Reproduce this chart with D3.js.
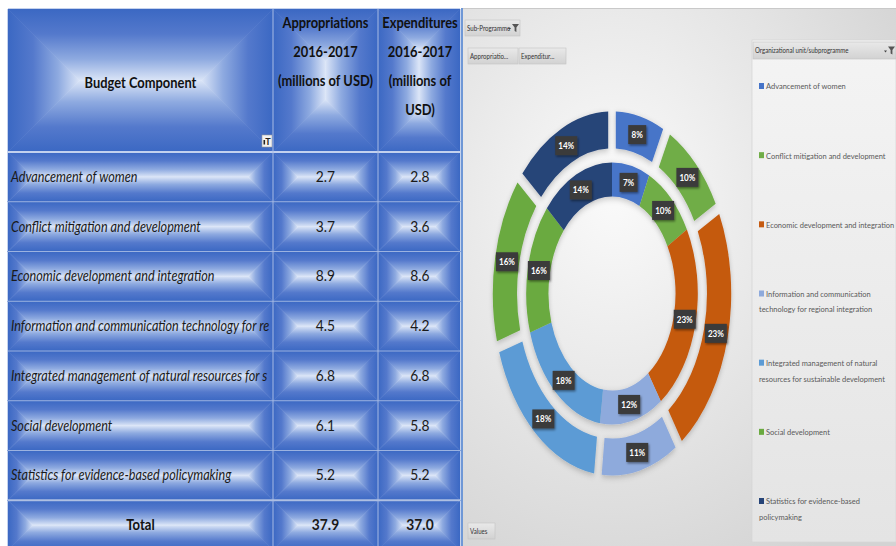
<!DOCTYPE html>
<html lang="en">
<head>
<meta charset="UTF-8">
<title>Budget components</title>
<script src="https://cdn.jsdelivr.net/npm/d3@7/dist/d3.min.js"></script>
<style>
    body { margin: 0; background: #fff; }
    svg { display: block; }
    .narrow { font-family: Lato, "Open Sans", sans-serif; }
    .head { font-weight: bold; font-size: 15px; fill: #111; text-anchor: middle; }
    .lbl { font-style: italic; font-size: 14.5px; fill: #1a1a1a; }
    .num { font-size: 15px; fill: #1a1a1a; text-anchor: middle; }
    .tot { font-weight: bold; }
    .btn text { font-size: 8.5px; fill: #333; }
    .leg text { font-size: 8.5px; fill: #595959; }
    .pct { font-size: 9.5px; font-weight: bold; fill: #fff; text-anchor: middle; }
</style>
</head>
<body>
<script>
    // data
    var components = [
        "Advancement of women",
        "Conflict mitigation and development",
        "Economic development and integration",
        "Information and communication technology for regional integration",
        "Integrated management of natural resources for sustainable development",
        "Social development",
        "Statistics for evidence-based policymaking"
    ];
    var appropriations = [2.7, 3.7, 8.9, 4.5, 6.8, 6.1, 5.2];
    var expenditures = [2.8, 3.6, 8.6, 4.2, 6.8, 5.8, 5.2];
    var colHeaders = [
        ["Budget Component"],
        ["Appropriations", "2016-2017", "(millions of USD)"],
        ["Expenditures", "2016-2017", "(millions of", "USD)"]
    ];
    var legendLines = [
        ["Advancement of women"],
        ["Conflict mitigation and development"],
        ["Economic development and integration"],
        ["Information and communication", "technology for regional integration"],
        ["Integrated management of natural", "resources for sustainable development"],
        ["Social development"],
        ["Statistics for evidence-based", "policymaking"]
    ];
    var colors = ["#4674c8", "#70ad47", "#c55a11", "#8eaadc", "#5b9bd5", "#6aaa40", "#264478"];

    var width = 896, height = 546;
    var svg = d3.select("body").append("svg")
        .attr("width", width)
        .attr("height", height);
    var defs = svg.append("defs");

    // squeeze text horizontally around its x (the original uses a narrow font)
    function condense(sel, k) {
        sel.each(function () {
            var x = +this.getAttribute("x") || 0;
            d3.select(this).attr("transform", "matrix(" + k + ",0,0,1," + (x * (1 - k)) + ",0)");
        });
    }
    // drop trailing characters that would not show inside maxW
    function fitTo(sel, maxW, k) {
        sel.each(function () {
            var t = d3.select(this), s = t.text();
            while (s.length > 1 && this.getComputedTextLength() * k > maxW) {
                s = s.slice(0, -1);
                t.text(s);
            }
        });
    }

    // bevel gradients (edge -> centre)
    var bevelStops = [[0, "#3b68c3"], [0.35, "#5479cc"], [0.7, "#8eaae0"], [1, "#dbe5f7"]];
    var dirs = {top: [0, 0, 0, 1], bottom: [0, 1, 0, 0], left: [0, 0, 1, 0], right: [1, 0, 0, 0]};
    Object.keys(dirs).forEach(function (k) {
        var g = defs.append("linearGradient").attr("id", "bv-" + k)
            .attr("x1", dirs[k][0]).attr("y1", dirs[k][1])
            .attr("x2", dirs[k][2]).attr("y2", dirs[k][3]);
        bevelStops.forEach(function (s) {
            g.append("stop").attr("offset", s[0]).attr("stop-color", s[1]);
        });
    });

    function bevel(sel, x, y, w, h) {
        var m = Math.min(w, h) / 2;
        var TL = [x, y], TR = [x + w, y], BR = [x + w, y + h], BL = [x, y + h];
        var P1 = [x + m, y + m], P2 = [x + w - m, y + m], P3 = [x + w - m, y + h - m], P4 = [x + m, y + h - m];
        var polys = {top: [TL, TR, P2, P1], right: [TR, BR, P3, P2], bottom: [BR, BL, P4, P3], left: [BL, TL, P1, P4]};
        Object.keys(polys).forEach(function (k) {
            sel.append("polygon")
                .attr("points", polys[k].map(function (p) { return p.join(","); }).join(" "))
                .attr("fill", "url(#bv-" + k + ")")
                .attr("stroke", "url(#bv-" + k + ")")
                .attr("stroke-width", 0.6);
        });
    }

    // ---------- table ----------
    var colEdges = [8, 273, 378, 460];
    var headTop = 9, headBottom = 152;
    var rowKeys = components.concat(["Total"]);
    var yRow = d3.scaleBand().domain(rowKeys).range([headBottom, 550]);

    var table = svg.append("g").attr("class", "narrow");
    // header cells
    colHeaders.forEach(function (lines, c) {
        var cell = table.append("g");
        bevel(cell, colEdges[c], headTop, colEdges[c + 1] - colEdges[c], headBottom - headTop);
        var cx = (colEdges[c] + colEdges[c + 1]) / 2 + (c === 2 ? 1 : 0);
        var y0 = c === 0 ? 88 : 28;
        lines.forEach(function (t, i) {
            cell.append("text").attr("class", "head")
                .attr("x", cx).attr("y", y0 + i * 29).text(t)
                .call(condense, 0.86);
        });
    });
    // filter button on header
    table.append("rect").attr("x", 262).attr("y", 135).attr("width", 10).attr("height", 12)
        .attr("fill", "#f2f2f2").attr("stroke", "#9a9a9a").attr("stroke-width", 0.6);
    table.append("text").attr("x", 268).attr("y", 144.5).attr("text-anchor", "middle")
        .attr("font-size", 9).attr("font-weight", "bold").attr("fill", "#222").text("T");
    table.append("rect").attr("x", 263.5).attr("y", 140).attr("width", 1.6).attr("height", 4.5).attr("fill", "#222");

    // body cells
    rowKeys.forEach(function (key) {
        var y = yRow(key), h = yRow.bandwidth();
        for (var c = 0; c < 3; c++) {
            bevel(table, colEdges[c], y, colEdges[c + 1] - colEdges[c], h);
        }
    });
    var rows = table.selectAll(".row")
        .data(rowKeys)
        .enter().append("g").attr("class", "row");
    rows.append("text")
        .attr("class", function (d) { return d === "Total" ? "head" : "lbl"; })
        .attr("x", function (d) { return d === "Total" ? (colEdges[0] + colEdges[1]) / 2 : 11; })
        .attr("y", function (d) { return yRow(d) + yRow.bandwidth() / 2 + 5; })
        .text(function (d) { return d; })
        .call(fitTo, colEdges[1] - 12, 0.87)
        .call(condense, 0.87);
    var totals = [d3.sum(appropriations), d3.sum(expenditures)];
    [appropriations, expenditures].forEach(function (series, s) {
        rows.append("text")
            .attr("class", function (d) { return d === "Total" ? "num tot" : "num"; })
            .attr("x", (colEdges[s + 1] + colEdges[s + 2]) / 2 + (s === 1 ? 1 : 0))
            .attr("y", function (d) { return yRow(d) + yRow.bandwidth() / 2 + 5; })
            .text(function (d, i) { return d === "Total" ? totals[s].toFixed(1) : series[i].toFixed(1); })
            .call(condense, 0.92);
    });
    // grid lines
    rowKeys.slice(1).forEach(function (key) {
        table.append("line").attr("x1", colEdges[0]).attr("x2", colEdges[3])
            .attr("y1", yRow(key)).attr("y2", yRow(key))
            .attr("stroke", key === "Total" ? "#aebfe2" : "#9bb2e0")
            .attr("stroke-width", key === "Total" ? 2 : 1);
    });
    table.append("line").attr("x1", colEdges[0]).attr("x2", colEdges[3])
        .attr("y1", headBottom).attr("y2", headBottom).attr("stroke", "#c3d1ee").attr("stroke-width", 2);
    [colEdges[1], colEdges[2]].forEach(function (x) {
        table.append("line").attr("x1", x).attr("x2", x).attr("y1", headTop).attr("y2", height)
            .attr("stroke", "#a9bce4").attr("stroke-width", 1);
    });

    // ---------- pivot chart ----------
    var bg = defs.append("radialGradient").attr("id", "chartbg")
        .attr("cx", "35%").attr("cy", "35%").attr("r", "80%");
    bg.append("stop").attr("offset", 0).attr("stop-color", "#fafafa");
    bg.append("stop").attr("offset", 1).attr("stop-color", "#d3d3d3");
    var lg = defs.append("linearGradient").attr("id", "legbg").attr("x1", 0).attr("y1", 0).attr("x2", 0).attr("y2", 1);
    lg.append("stop").attr("offset", 0).attr("stop-color", "#f4f4f4");
    lg.append("stop").attr("offset", 1).attr("stop-color", "#e4e4e4");
    var bt = defs.append("linearGradient").attr("id", "btnbg").attr("x1", 0).attr("y1", 0).attr("x2", 0).attr("y2", 1);
    bt.append("stop").attr("offset", 0).attr("stop-color", "#e9e9e9");
    bt.append("stop").attr("offset", 1).attr("stop-color", "#d2d2d2");
    var sh = defs.append("filter").attr("id", "shadow").attr("x", "-30%").attr("y", "-30%").attr("width", "160%").attr("height", "160%");
    sh.append("feDropShadow").attr("dx", 1).attr("dy", 1.5).attr("stdDeviation", 1.2).attr("flood-opacity", 0.45);
    var soft = defs.append("filter").attr("id", "soft").attr("x", "-20%").attr("y", "-20%").attr("width", "140%").attr("height", "140%");
    soft.append("feDropShadow").attr("dx", 0).attr("dy", 2).attr("stdDeviation", 3).attr("flood-opacity", 0.22);

    var chart = svg.append("g").attr("class", "narrow");
    chart.append("rect").attr("x", 462).attr("y", 8).attr("width", width - 462).attr("height", height - 8)
        .attr("fill", "url(#chartbg)");
    chart.append("rect").attr("x", 752).attr("y", 40).attr("width", width - 752).attr("height", 502)
        .attr("fill", "url(#legbg)").attr("stroke", "#d6d6d6").attr("stroke-width", 0.8);
    chart.append("line").attr("x1", 462).attr("x2", width).attr("y1", 8.5).attr("y2", 8.5)
        .attr("stroke", "#c9c9c9");
    chart.append("line").attr("x1", 462).attr("x2", 462).attr("y1", 8).attr("y2", height)
        .attr("stroke", "#6f98d6").attr("stroke-width", 2);

    function button(x, y, w, h, label, icon) {
        var b = chart.append("g").attr("class", "btn");
        b.append("rect").attr("x", x).attr("y", y).attr("width", w).attr("height", h)
            .attr("fill", "url(#btnbg)").attr("stroke", "#c4c4c4").attr("stroke-width", 0.6);
        b.append("text").attr("x", x + 2).attr("y", y + h / 2 + 3).text(label).call(condense, 0.72);
        if (icon) {
            var ix = x + w - 12, iy = y + h / 2;
            b.append("path").attr("d", "M" + ix + "," + (iy) + "h3l-1.5,2z").attr("fill", "#444");
            b.append("path").attr("d", "M" + (ix + 4) + "," + (iy - 4) + "h7l-2.6,3.5v4.5l-1.8,-1v-3.5z").attr("fill", "#555");
        }
    }
    button(465, 20, 55, 16, "Sub-Programme", true);
    button(468, 48, 50, 16, "Appropriatio...", false);
    button(519, 48, 47, 16, "Expenditur...", false);
    button(468, 523, 27, 16, "Values", false);
    button(753, 42, 143, 17, "Organizational unit/subprogramme", true);

    // donut (drawn as circle, squeezed horizontally)
    var cx = 612, cy = 293.5, sx = 0.655;
    var pie = d3.pie().sort(null).value(function (d) { return d; });
    var rings = [
        {data: appropriations, inner: 97, outer: 131, pad: 0},
        {data: expenditures, inner: 145, outer: 182, pad: 0.05}
    ];
    var donut = chart.append("g").attr("transform", "translate(" + cx + "," + cy + ")");
    var labelLayer = chart.append("g");
    rings.forEach(function (ring) {
        var total = d3.sum(ring.data);
        var arc = d3.arc().innerRadius(ring.inner).outerRadius(ring.outer).padAngle(ring.pad);
        var arcs = pie(ring.data);
        donut.append("g").attr("transform", "scale(" + sx + ",1)").attr("filter", "url(#soft)")
            .selectAll("path")
            .data(arcs)
            .enter().append("path")
            .attr("d", arc)
            .attr("fill", function (d, i) { return colors[i]; });
        var labels = labelLayer.selectAll(null)
            .data(arcs)
            .enter().append("g")
            .attr("transform", function (d) {
                var c = arc.centroid(d);
                return "translate(" + (cx + c[0] * sx) + "," + (cy + c[1]) + ")";
            });
        labels.each(function (d) {
            var t = Math.round(d.value / total * 100) + "%";
            var w = t.length > 2 ? 22 : 18;
            var g = d3.select(this);
            g.append("rect").attr("x", -w / 2).attr("y", -9.5).attr("width", w).attr("height", 19)
                .attr("fill", "#3b3b3b").attr("filter", "url(#shadow)");
            g.append("text").attr("class", "pct").attr("y", 3.5).text(t).call(condense, 0.85);
        });
    });

    // legend
    var yLeg = d3.scalePoint().domain(components).range([87, 502]);
    var leg = chart.append("g").attr("class", "leg");
    components.forEach(function (name, i) {
        var y = yLeg(name);
        leg.append("rect").attr("x", 759).attr("y", y - 4).attr("width", 5).attr("height", 6)
            .attr("fill", colors[i]);
        legendLines[i].forEach(function (line, j) {
            leg.append("text").attr("x", j === 0 ? 766 : 759).attr("y", y + 2.5 + j * 15.5).text(line)
                .call(fitTo, width - (j === 0 ? 766 : 759) - 1, 0.88)
                .call(condense, 0.88);
        });
    });
</script>
</body>
</html>
